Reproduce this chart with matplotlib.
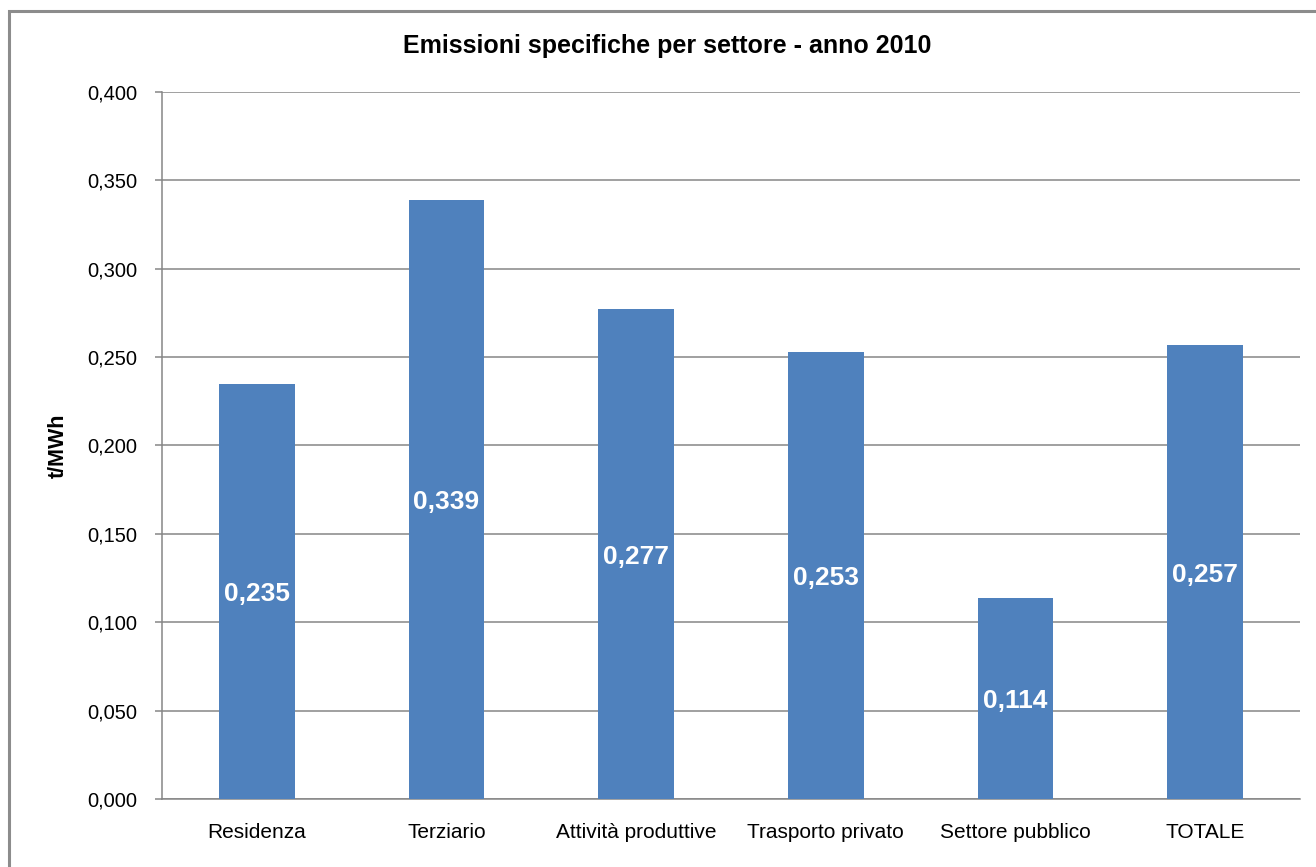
#!/usr/bin/env python3
"""Emissioni specifiche per settore - anno 2010 (bar chart)."""

import matplotlib
matplotlib.use("Agg")
import matplotlib.pyplot as plt
from matplotlib.patches import Rectangle
from matplotlib.ticker import FuncFormatter, MultipleLocator

settori = [
    "Residenza",
    "Terziario",
    "Attività produttive",
    "Trasporto privato",
    "Settore pubblico",
    "TOTALE",
]
emissioni = [0.235, 0.339, 0.277, 0.253, 0.114, 0.257]

BAR_COLOR = "#4F81BD"
GRID_COLOR = "#868686"

plt.rcParams["font.family"] = ["Liberation Sans", "DejaVu Sans"]


def it_fmt(v, _pos=None):
    return f"{v:.3f}".replace(".", ",")


fig = plt.figure(figsize=(13.16, 8.67), dpi=100)
ax = fig.add_axes([162 / 1316, 68 / 867, 1138 / 1316, 707 / 867])

x = range(len(settori))
bars = ax.bar(x, emissioni, width=0.4, color=BAR_COLOR, zorder=3)

for rect, val in zip(bars, emissioni):
    ax.annotate(it_fmt(val), (rect.get_x() + rect.get_width() / 2, val / 2),
                xytext=(0, -3), textcoords="offset pixels",
                ha="center", va="center", color="white", fontsize=19,
                fontweight="bold", zorder=4)

ax.set_xlim(-0.5, len(settori) - 0.5)
ax.set_ylim(0, 0.4)
ax.yaxis.set_major_locator(MultipleLocator(0.05))
ax.yaxis.set_major_formatter(FuncFormatter(it_fmt))
ax.set_xticks(list(x))
ax.set_xticklabels(settori)

ax.grid(axis="y", color=GRID_COLOR, linewidth=1.1, zorder=0)
ax.set_axisbelow(True)
for side in ("top", "right"):
    ax.spines[side].set_visible(False)
for side in ("left", "bottom"):
    ax.spines[side].set_color(GRID_COLOR)
    ax.spines[side].set_linewidth(1.1)

ax.tick_params(axis="y", length=5, width=1.1, color=GRID_COLOR,
               labelsize=14.5, pad=13)
ax.tick_params(axis="x", length=0, labelsize=15, pad=17)

ax.set_ylabel("t/MWh", fontsize=15.5, fontweight="bold", labelpad=13)
fig.text(667 / 1316, 1 - 46 / 867,
         "Emissioni specifiche per settore - anno 2010",
         ha="center", va="center", fontsize=18, fontweight="bold")

# chart frame (Excel-style border, cropped on the right and bottom)
fig.patches.append(Rectangle((9 / 1316, -0.05), 1.2, 1 - 11 / 867 + 0.05,
                             transform=fig.transFigure, fill=False,
                             edgecolor="#8C8C8C", linewidth=2.2))

fig.savefig("out.png", dpi=100)
